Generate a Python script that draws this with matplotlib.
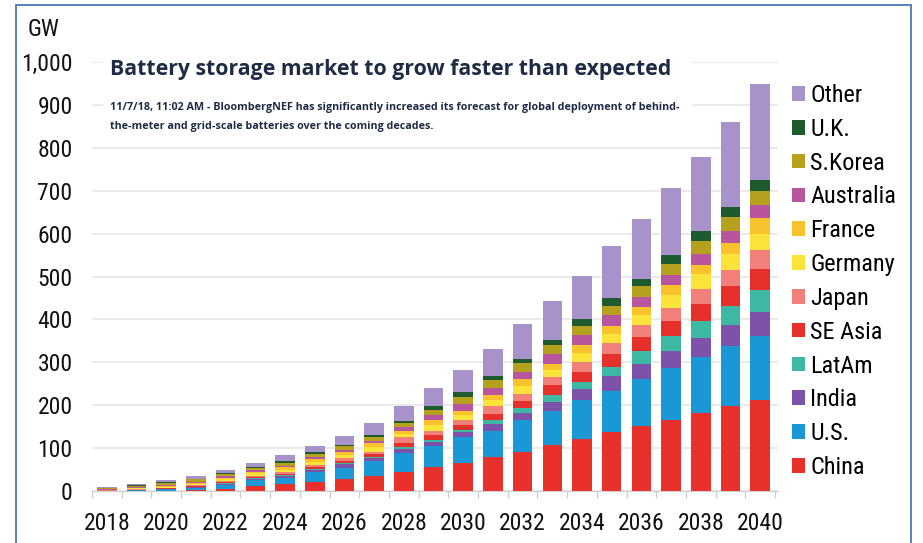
import numpy as np
import matplotlib
matplotlib.use("Agg")
import matplotlib.pyplot as plt
from matplotlib.patches import Rectangle, Patch
from matplotlib.ticker import FuncFormatter, MultipleLocator

years = list(range(2018, 2041))

# GW, bottom to top of each stack
china     = [0, 1, 1, 2, 5, 11, 16, 21, 27, 35, 44, 55, 65, 79, 91, 107, 122, 138, 151, 165, 182, 198, 213]
us        = [1, 2, 3, 5, 9, 14, 15, 23, 27, 34, 44, 50, 62, 62, 74, 80, 90, 96, 111, 121, 131, 139, 148]
india     = [0, 0, 1, 2, 3, 4, 4, 5, 8, 7, 10, 10, 10, 16, 16, 21, 25, 33, 33, 41, 44, 51, 57]
latam     = [0, 0, 0, 1, 1, 1, 2, 2, 3, 3, 5, 5, 5, 9, 12, 16, 18, 23, 31, 34, 40, 44, 51]
se_asia   = [0, 0, 1, 1, 2, 3, 3, 4, 5, 7, 10, 10, 12, 14, 16, 23, 23, 30, 33, 36, 39, 45, 48]
japan     = [1, 1, 1, 2, 3, 3, 4, 5, 6, 5, 12, 10, 11, 17, 16, 19, 23, 25, 27, 29, 34, 37, 44]
germany   = [1, 2, 3, 3, 4, 5, 6, 8, 7, 12, 9, 13, 12, 14, 20, 17, 21, 22, 25, 31, 36, 39, 37]
france    = [0, 1, 2, 3, 4, 4, 5, 6, 8, 8, 7, 12, 10, 12, 17, 14, 18, 18, 19, 23, 21, 26, 39]
australia = [1, 2, 3, 3, 3, 3, 4, 5, 4, 6, 8, 12, 16, 18, 16, 22, 23, 26, 22, 23, 26, 28, 29]
s_korea   = [2, 3, 4, 5, 5, 6, 7, 8, 9, 8, 9, 12, 17, 17, 20, 21, 21, 21, 25, 26, 29, 31, 33]
uk        = [1, 1, 1, 2, 2, 2, 3, 3, 3, 5, 6, 8, 10, 9, 10, 13, 16, 18, 18, 21, 23, 23, 27]
other     = [2, 4, 5, 5, 7, 9, 14, 15, 21, 29, 35, 43, 52, 65, 81, 90, 101, 122, 140, 156, 174, 198, 222]

names = ["China", "U.S.", "India", "LatAm", "SE Asia", "Japan", "Germany",
         "France", "Australia", "S.Korea", "U.K.", "Other"]
series = [china, us, india, latam, se_asia, japan, germany, france,
          australia, s_korea, uk, other]
colors = ["#e8312a", "#1a98d5", "#7d52aa", "#3db8a2", "#e5302c", "#f2807a",
          "#fbe33a", "#f8c22c", "#b8559e", "#b5a11e", "#1d5a2e", "#a792c9"]

narrow = ["Liberation Sans Narrow", "Roboto Condensed", "Liberation Sans", "DejaVu Sans"]

fig = plt.figure(figsize=(9.23, 5.43), dpi=100)
ax = fig.add_axes([92/923, 52/543, 686/923, 429/543])

bottom = np.zeros(len(years))
for vals, col in zip(series, colors):
    ax.bar(years, vals, width=0.66, bottom=bottom, color=col, zorder=2)
    bottom += np.array(vals)

ax.set_xlim(2017.5, 2040.6)
ax.set_ylim(0, 1000)
ax.yaxis.set_major_locator(MultipleLocator(100))
ax.yaxis.set_major_formatter(FuncFormatter(lambda v, p: f"{int(v):,}"))
ax.set_xticks(years[::2])
ax.set_xticks(np.arange(2017.5, 2041, 1), minor=True)
ax.tick_params(axis="x", which="major", length=0, pad=15)
ax.tick_params(axis="x", which="minor", length=5, color="#cfcfcf", width=1)
ax.tick_params(axis="y", length=0, pad=14)
for lab in ax.get_xticklabels() + ax.get_yticklabels():
    lab.set_fontfamily(narrow)
    lab.set_fontsize(17)
    lab.set_color("#111111")

ax.grid(axis="y", color="#e6e6e6", linewidth=1.2, zorder=0)
ax.set_axisbelow(True)
for s in ["top", "right", "left"]:
    ax.spines[s].set_visible(False)
ax.spines["bottom"].set_color("#cfcfcf")

fig.text(28/923, 1 - 30/543, "GW", fontsize=17, family=narrow, va="center", color="#111111")

# white box behind the headline
fig.patches.append(Rectangle((103/923, 1 - 140/543), 589/923, 92/543,
                             transform=fig.transFigure, facecolor="white",
                             edgecolor="none", zorder=1))
fig.text(110/923, 1 - 70/543, "Battery storage market to grow faster than expected",
         fontsize=15.3, family=["Open Sans", "DejaVu Sans"], weight="bold",
         color="#1e2b45", va="center", zorder=3)
fig.text(110/923, 1 - 108/543,
         "11/7/18, 11:02 AM - BloombergNEF has significantly increased its forecast for global deployment of behind-",
         fontsize=7.75, family=["Open Sans", "DejaVu Sans"], weight="bold",
         color="#1e2b45", va="center", zorder=3)
fig.text(110/923, 1 - 126/543,
         "the-meter and grid-scale batteries over the coming decades.",
         fontsize=7.75, family=["Open Sans", "DejaVu Sans"], weight="bold",
         color="#1e2b45", va="center", zorder=3)

handles = [Patch(facecolor=c, edgecolor="none") for c in colors][::-1]
leg = fig.legend(handles, names[::-1], loc="upper left",
                 bbox_to_anchor=(792/923, 1 - 84/543), frameon=False,
                 prop={"family": narrow, "size": 17.5}, handlelength=0.55,
                 handleheight=0.55, handletextpad=0.2, labelspacing=0.445,
                 borderpad=0, borderaxespad=0)

# thin frame around the picture
fig.patches.append(Rectangle((16/923, -0.02), 895/923, 1.02 - 5/543,
                             transform=fig.transFigure, fill=False,
                             edgecolor="#4a78b5", linewidth=1.3, zorder=5))

fig.savefig("out.png", dpi=100)
